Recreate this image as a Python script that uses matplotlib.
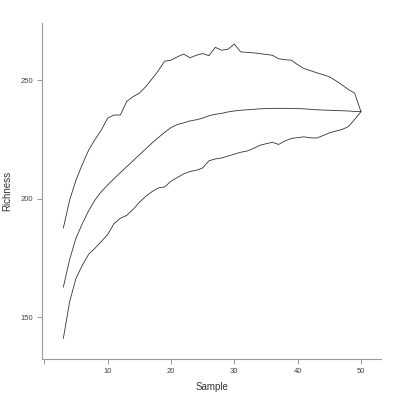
"""Species accumulation curve with upper and lower bounds."""
import matplotlib
matplotlib.use("Agg")
import matplotlib.pyplot as plt
import numpy as np

samples = list(range(3, 51))

richness_mean = [162.8, 174.5, 183.5, 189.5, 195.0, 199.5, 203.0, 205.8, 208.5, 211.0,
                 213.5, 216.0, 218.5, 221.0, 223.5, 225.8, 228.0, 230.0, 231.3, 232.0,
                 232.8, 233.3, 234.0, 235.0, 235.6, 236.0, 236.6, 237.0, 237.3, 237.5,
                 237.7, 237.9, 238.0, 238.1, 238.1, 238.1, 238.1, 238.0, 237.9, 237.7,
                 237.5, 237.4, 237.3, 237.2, 237.1, 237.0, 236.8, 236.7]

richness_upper = [187.7, 199.5, 207.9, 214.5, 220.5, 225.0, 229.0, 234.0, 235.3, 235.3,
                  241.0, 243.0, 244.5, 247.2, 250.5, 254.0, 258.0, 258.4, 259.8, 261.0,
                  259.4, 260.5, 261.2, 260.3, 263.8, 262.6, 263.0, 265.2, 261.9, 261.7,
                  261.5, 261.2, 260.8, 260.5, 259.0, 258.6, 258.4, 256.5, 254.9, 254.0,
                  253.1, 252.3, 251.4, 249.8, 248.0, 246.1, 244.5, 236.7]

richness_lower = [141.2, 156.7, 166.5, 172.0, 176.6, 179.2, 182.0, 185.0, 189.5, 191.8,
                  193.0, 195.5, 198.5, 201.0, 203.0, 204.6, 205.0, 207.4, 209.0, 210.5,
                  211.5, 212.0, 213.0, 216.0, 216.8, 217.2, 218.0, 218.8, 219.6, 220.1,
                  221.2, 222.5, 223.2, 223.8, 222.9, 224.4, 225.4, 225.8, 226.1, 225.7,
                  225.6, 226.6, 227.8, 228.5, 229.2, 230.4, 233.4, 236.7]

x_ticks = [0, 10, 20, 30, 40, 50]
x_tick_labels = ["", "10", "20", "30", "40", "50"]
y_ticks = [150, 200, 250]

plt.rcParams["font.family"] = ["Liberation Sans", "DejaVu Sans"]

fig = plt.figure(figsize=(4, 4), dpi=100)
ax = fig.add_axes([0.1058, 0.1025, 0.8468, 0.839])

line_color = "#333333"
for series in (richness_upper, richness_mean, richness_lower):
    ax.plot(samples, series, color=line_color, linewidth=0.6)

ax.set_xlim(-0.32, 53.17)
ax.set_ylim(132.5, 273.9)
ax.set_xticks(x_ticks)
ax.set_xticklabels(x_tick_labels)
ax.set_yticks(y_ticks)

for side in ("top", "right"):
    ax.spines[side].set_visible(False)
for side in ("left", "bottom"):
    ax.spines[side].set_color("#999999")
    ax.spines[side].set_linewidth(0.8)

ax.tick_params(axis="both", direction="out", length=3.5, width=0.7,
               color="#999999", labelsize=5.5, labelcolor="#444444", pad=3)

ax.set_xlabel("Sample", fontsize=7, color="#333333", labelpad=5)
ax.set_ylabel("Richness", fontsize=7, color="#333333", labelpad=6)

fig.savefig("out.png", dpi=100)
